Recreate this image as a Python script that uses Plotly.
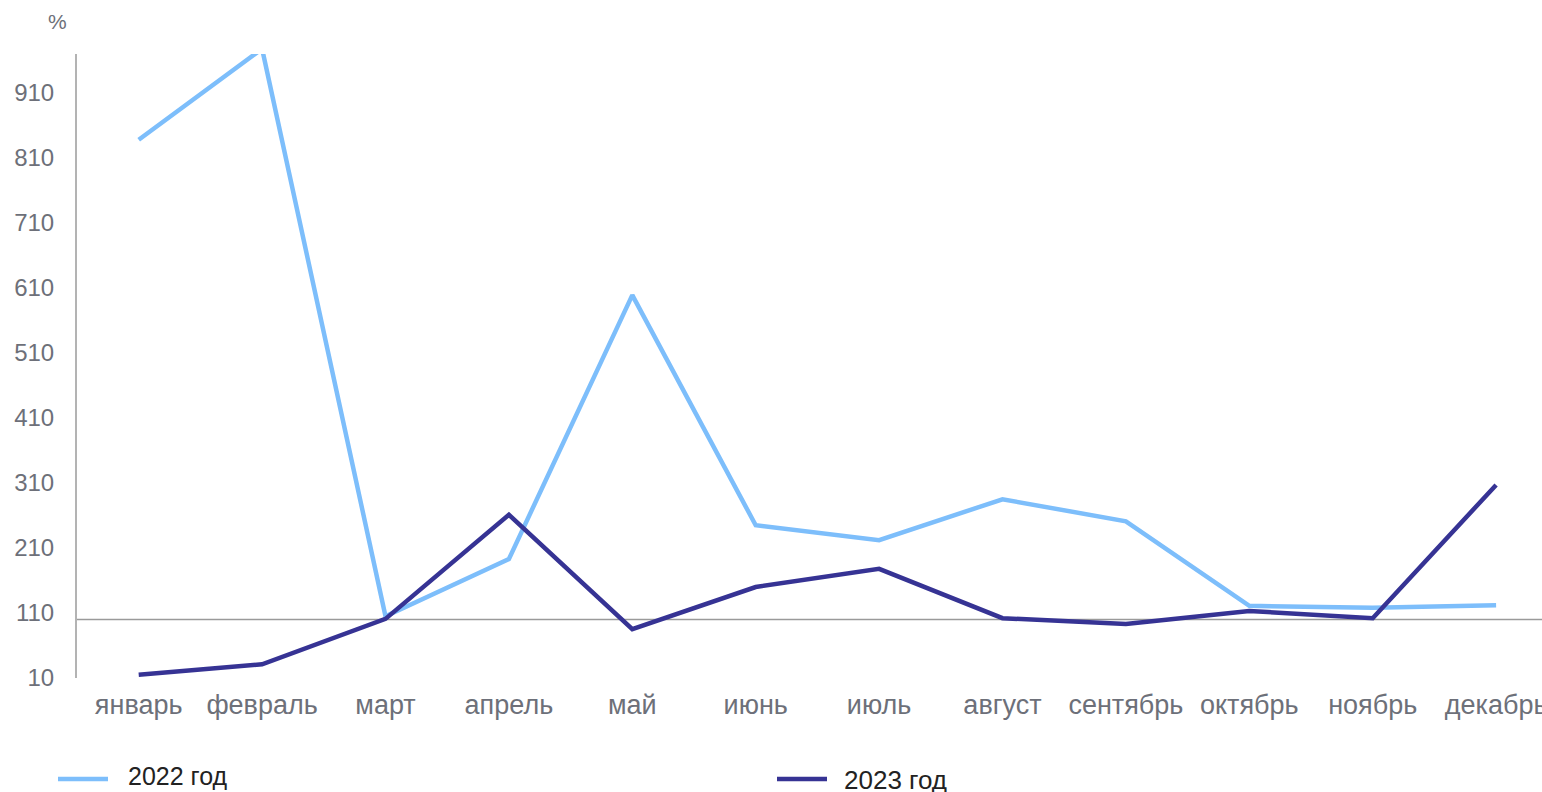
import plotly.graph_objects as go

months = ["январь", "февраль", "март", "апрель", "май", "июнь", "июль",
          "август", "сентябрь", "октябрь", "ноябрь", "декабрь"]
series_names = ["2022 год", "2023 год"]
values_2022 = [838, 978, 105, 193, 599, 245, 222, 285, 251, 121, 118, 122]
values_2023 = [15, 31, 101, 261, 85, 150, 178, 102, 93, 113, 102, 307]
y_ticks = [10, 110, 210, 310, 410, 510, 610, 710, 810, 910]
ref_level = 100
colors = ["#7DBEFB", "#363394"]

W, H = 1542, 792
L, R, T, B = 77, 0, 54, 114
pw, ph = W - L - R, H - T - B
STEP = 123.4


def px(x):
    return (x - L) / pw


def py(y):
    return (H - B - y) / ph


x_idx = list(range(len(months)))
fig = go.Figure()
for name, vals, c in zip(series_names, [values_2022, values_2023], colors):
    fig.add_trace(go.Scatter(x=x_idx, y=vals, mode="lines", name=name,
                             line=dict(color=c, width=4.5), showlegend=False,
                             cliponaxis=True, hoverinfo="skip"))

fig.add_shape(type="line", xref="paper", yref="y", x0=0, x1=1, y0=ref_level, y1=ref_level,
              line=dict(color="#9a9a9a", width=1.5), layer="below")

# legend (manual)
leg = [(58, 108, 779, 126, 776, 25), (777, 827, 779, 842, 780, 26)]
for (x0, x1, yl, xt, yt, fs), name, c in zip(leg, series_names, colors):
    fig.add_shape(type="line", xref="paper", yref="paper", x0=px(x0), x1=px(x1),
                  y0=py(yl), y1=py(yl), line=dict(color=c, width=4.5))
    fig.add_annotation(xref="paper", yref="paper", x=px(xt), y=py(yt), text=name,
                       showarrow=False, xanchor="left", yanchor="middle",
                       font=dict(family="Liberation Sans, Arial", size=fs, color="#222222"))

fig.add_annotation(xref="paper", yref="paper", x=px(57), y=py(22), text="%",
                   showarrow=False, xanchor="center", yanchor="middle",
                   font=dict(family="Liberation Sans, Arial", size=21, color="#6d7079"))

fig.update_layout(
    width=W, height=H,
    margin=dict(l=L, r=R, t=T, b=B, pad=0, autoexpand=False),
    paper_bgcolor="white", plot_bgcolor="white",
    font=dict(family="Liberation Sans, Arial", size=24, color="#6d7079"),
    xaxis=dict(range=[-0.5, -0.5 + pw / STEP], tickmode="array", tickvals=x_idx,
               ticktext=months, showgrid=False, zeroline=False, showline=False,
               ticklabeloverflow="allow", automargin=False,
               ticklabelstandoff=8, tickfont=dict(size=27, color="#6d7079")),
    yaxis=dict(range=[10, 970], tickmode="array", tickvals=y_ticks,
               ticktext=[str(v) for v in y_ticks], showgrid=False, zeroline=False,
               showline=True, linecolor="#b3b3b3", linewidth=2, automargin=False,
               ticklabelstandoff=16, tickfont=dict(size=24, color="#6d7079")),
)

fig.write_html(
    "out.html",
    config={"displayModeBar": False},
    post_script="document.body.style.margin='0';document.body.style.overflow='hidden';",
)
